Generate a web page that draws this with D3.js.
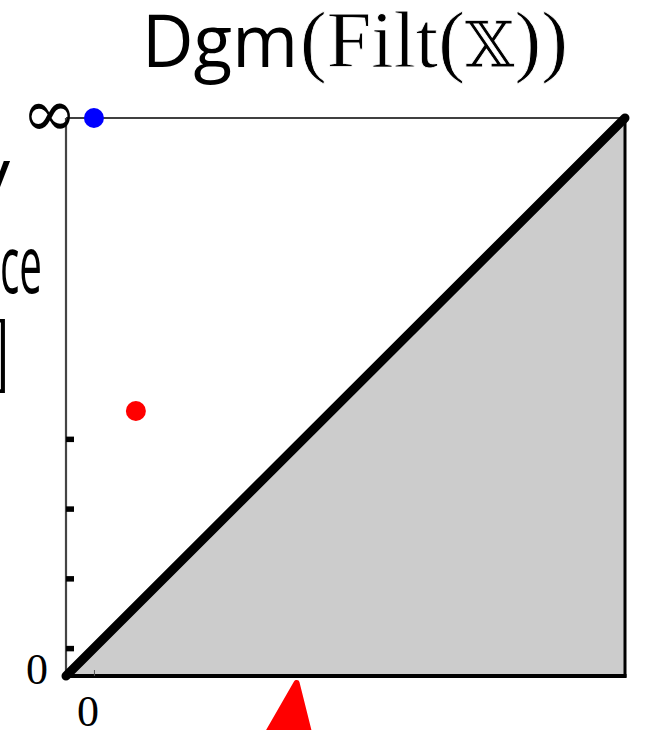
<!DOCTYPE html>
<html>
<head>
<meta charset="utf-8">
<script src="https://cdn.jsdelivr.net/npm/d3@7"></script>
<style>
  html, body { margin: 0; padding: 0; background: #fff; }
  svg { display: block; }
</style>
</head>
<body>
<div id="chart"></div>
<script>
// Persistence diagram: birth on x, death on y, diagonal with the region below shaded.
const axisRange = [-0.4, 7.6];          // shared birth/death range of the square plot
const yTickValues = [0, 1, 2, 3];       // small black ticks on the death axis
const xTickValues = [0];                // thin tick on the birth axis
const xTickLabels = ["0"];
const yTickLabels = ["0"];
const infinityLabel = "\u221E";
const births = [0, 0.6];                // persistence pairs
const deaths = [Infinity, 3.4];
const markerValues = [2.9];             // position pointed to from below the axis
const titleSans = "Dgm";
const titleSerif = ["(Filt(", "\uD835\uDD4F", "))"];
const sideLabels = ["y", "ce", "]"];    // clipped fragments of the row label on the left

const width = 649, height = 730;
const plotLeft = 66, plotRight = 625, plotTop = 118, plotBottom = 676;

const svg = d3.select("#chart").append("svg")
  .attr("width", width).attr("height", height);

const x = d3.scaleLinear().domain(axisRange).range([plotLeft, plotRight]);
const y = d3.scaleLinear().domain(axisRange).range([plotBottom, plotTop]);
const [lo, hi] = axisRange;

// shaded region under the diagonal
svg.append("path")
  .attr("d", d3.line()([[x(lo), y(lo)], [x(hi), y(lo)], [x(hi), y(hi)]]) + "Z")
  .attr("fill", "#cccccc");

// top line (the "infinity" level)
svg.append("line")
  .attr("x1", x(lo)).attr("x2", x(hi))
  .attr("y1", y(hi)).attr("y2", y(hi))
  .attr("stroke", "#000").attr("stroke-width", 1.5);

// left (death) axis line
svg.append("line")
  .attr("x1", x(lo)).attr("x2", x(lo))
  .attr("y1", y(hi)).attr("y2", y(lo))
  .attr("stroke", "#444").attr("stroke-width", 2.2);

// right edge and bottom edge of the shaded triangle
svg.append("line")
  .attr("x1", x(hi)).attr("x2", x(hi))
  .attr("y1", y(hi)).attr("y2", y(lo) + 1.5)
  .attr("stroke", "#000").attr("stroke-width", 3);
svg.append("line")
  .attr("x1", x(lo)).attr("x2", x(hi) + 1.5)
  .attr("y1", y(lo)).attr("y2", y(lo))
  .attr("stroke", "#000").attr("stroke-width", 4);

// ticks on the death axis
const yAxis = svg.append("g")
  .attr("transform", `translate(${x(lo)},0)`)
  .call(d3.axisRight(y).tickValues(yTickValues).tickSize(8).tickFormat(""));
yAxis.select(".domain").remove();
yAxis.selectAll(".tick line").attr("stroke", "#000").attr("stroke-width", 5.5);

// tick on the birth axis
const xAxis = svg.append("g")
  .attr("transform", `translate(0,${y(lo)})`)
  .call(d3.axisTop(x).tickValues(xTickValues).tickSize(6).tickFormat(""));
xAxis.select(".domain").remove();
xAxis.selectAll(".tick line").attr("stroke", "#555").attr("stroke-width", 1);

// diagonal
svg.append("line")
  .attr("x1", x(lo)).attr("y1", y(lo))
  .attr("x2", x(hi)).attr("y2", y(hi))
  .attr("stroke", "#000").attr("stroke-width", 9)
  .attr("stroke-linecap", "round");

// tick labels
svg.selectAll("text.xlab").data(xTickLabels).join("text")
  .attr("class", "xlab")
  .attr("x", (d, i) => x(xTickValues[i]) - 6)
  .attr("y", y(lo) + 50)
  .attr("text-anchor", "middle")
  .attr("font-family", "Liberation Serif, serif")
  .attr("font-size", 44)
  .text(d => d);
svg.selectAll("text.ylab").data(yTickLabels).join("text")
  .attr("class", "ylab")
  .attr("x", x(lo) - 29)
  .attr("y", y(lo) + 8)
  .attr("text-anchor", "middle")
  .attr("font-family", "Liberation Serif, serif")
  .attr("font-size", 44)
  .text(d => d);
svg.append("text")
  .attr("x", x(lo) + 11)
  .attr("y", y(hi) + 18)
  .attr("text-anchor", "end")
  .attr("font-family", "DejaVu Serif, serif")
  .attr("font-size", 66)
  .text(infinityLabel);

// persistence points: infinite deaths drawn on the top line
const points = births.map((b, i) => ({ birth: b, death: deaths[i] }));
svg.selectAll("circle.pt").data(points).join("circle")
  .attr("class", "pt")
  .attr("cx", d => x(d.birth))
  .attr("cy", d => isFinite(d.death) ? y(d.death) : y(hi))
  .attr("r", 10)
  .attr("fill", d => isFinite(d.death) ? "#ff0000" : "#0000ff");

// marker below the birth axis
svg.selectAll("path.marker").data(markerValues).join("path")
  .attr("class", "marker")
  .attr("d", d => {
    const ax = x(d), ay = y(lo) + 7;
    return `M${ax},${ay} L${ax - 46},${ay + 80} L${ax + 20},${ay + 80} Z`;
  })
  .attr("fill", "#ff0000")
  .attr("stroke", "#ff0000")
  .attr("stroke-width", 6)
  .attr("stroke-linejoin", "round");

// title: sans-serif operator name followed by the serif argument
svg.append("text")
  .attr("x", 142).attr("y", 67)
  .attr("font-family", "Open Sans, sans-serif")
  .attr("font-size", 73)
  .attr("textLength", 156).attr("lengthAdjust", "spacingAndGlyphs")
  .text(titleSans);
const titleArg = svg.append("text")
  .attr("x", 300).attr("y", 67)
  .attr("font-family", "Liberation Serif, serif")
  .attr("font-size", 80)
  .attr("stroke", "#fff").attr("stroke-width", 0.8)
  .attr("textLength", 268).attr("lengthAdjust", "spacingAndGlyphs");
titleArg.append("tspan").text(titleSerif[0]);
titleArg.append("tspan").attr("font-family", "DejaVu Serif, DejaVu Sans, serif")
  .attr("font-size", 64).text(titleSerif[1]);
titleArg.append("tspan").text(titleSerif[2]);

// clipped row label on the left edge
const sideX = [10, 0, 12];
const sideY = [199, 293, 380];
const sideSize = [72, 80, 84];
const sideLen = [null, 42, null];
svg.selectAll("text.side").data(sideLabels).join("text")
  .attr("class", "side")
  .attr("x", (d, i) => sideX[i])
  .attr("y", (d, i) => sideY[i])
  .attr("text-anchor", (d, i) => sideLen[i] ? "start" : "end")
  .attr("font-family", "Open Sans, sans-serif")
  .attr("font-size", (d, i) => sideSize[i])
  .attr("font-weight", (d, i) => i === 2 ? 300 : 400)
  .each(function (d, i) {
    if (sideLen[i]) d3.select(this).attr("textLength", sideLen[i]).attr("lengthAdjust", "spacingAndGlyphs");
  })
  .text(d => d);
</script>
</body>
</html>
